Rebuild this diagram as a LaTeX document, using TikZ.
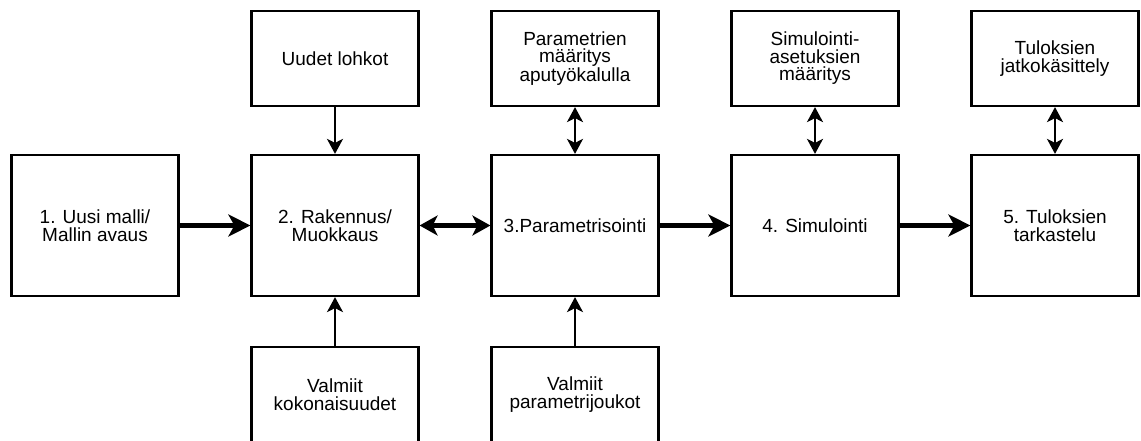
\documentclass[tikz,border=0pt]{standalone}
\usepackage{fontspec}
\setmainfont{Liberation Sans}
\usetikzlibrary{arrows.meta}
\begin{document}
\begin{tikzpicture}[x=1pt,y=-1pt,
  box/.style={draw=black,line width=2.2pt,fill=white,inner sep=0pt,
    minimum width=167pt,align=center,
    font=\fontsize{19}{17.5}\selectfont},
  mainbox/.style={box,minimum height=141pt},
  sidebox/.style={box,minimum height=95pt},
  flow/.style={line width=5pt,-{Stealth[length=22pt,width=22pt,inset=6pt]}},
  flowboth/.style={line width=4.5pt,{Stealth[length=18pt,width=20pt,inset=5pt]}-{Stealth[length=18pt,width=20pt,inset=5pt]}},
  feed/.style={line width=2pt,-{Stealth[length=15pt,width=16pt,inset=4pt]}},
  feedboth/.style={line width=2pt,{Stealth[length=15pt,width=16pt,inset=4pt]}-{Stealth[length=15pt,width=16pt,inset=4pt]}}]
\useasboundingbox (0,0) rectangle (1141,441);
\clip (0,0) rectangle (1141,441);
\fill[white] (0,0) rectangle (1141,441);

% main process row
\node[mainbox] (m1) at (95,225.5) {1. Uusi malli/\\Mallin avaus};
\node[mainbox] (m2) at (335,225.5) {2. Rakennus/\\Muokkaus};
\node[mainbox] (m3) at (575,225.5) {3.Parametrisointi};
\node[mainbox] (m4) at (815,225.5) {4. Simulointi};
\node[mainbox] (m5) at (1055,225.5) {5. Tuloksien\\tarkastelu};

% supporting boxes above
\node[sidebox] (t2) at (335,58.5) {Uudet lohkot};
\node[sidebox] (t3) at (575,58.5) {Parametrien\\määritys\\aputyökalulla};
\node[sidebox] (t4) at (815,58.5) {Simulointi-\\asetuksien\\määritys};
\node[sidebox] (t5) at (1055,58.5) {Tuloksien\\jatkokäsittely};

% supporting boxes below
\node[sidebox] (b2) at (335,394.5) {Valmiit\\kokonaisuudet};
\node[sidebox] (b3) at (575,394.5) {Valmiit\\parametrijoukot};

% main flow
\draw[flow] (m1) -- (m2);
\draw[flowboth] (m2) -- (m3);
\draw[flow] (m3) -- (m4);
\draw[flow] (m4) -- (m5);

% side connections
\draw[feed] (t2) -- (m2);
\draw[feedboth] (t3) -- (m3);
\draw[feedboth] (t4) -- (m4);
\draw[feedboth] (t5) -- (m5);
\draw[feed] (b2) -- (m2);
\draw[feed] (b3) -- (m3);
\end{tikzpicture}
\end{document}
